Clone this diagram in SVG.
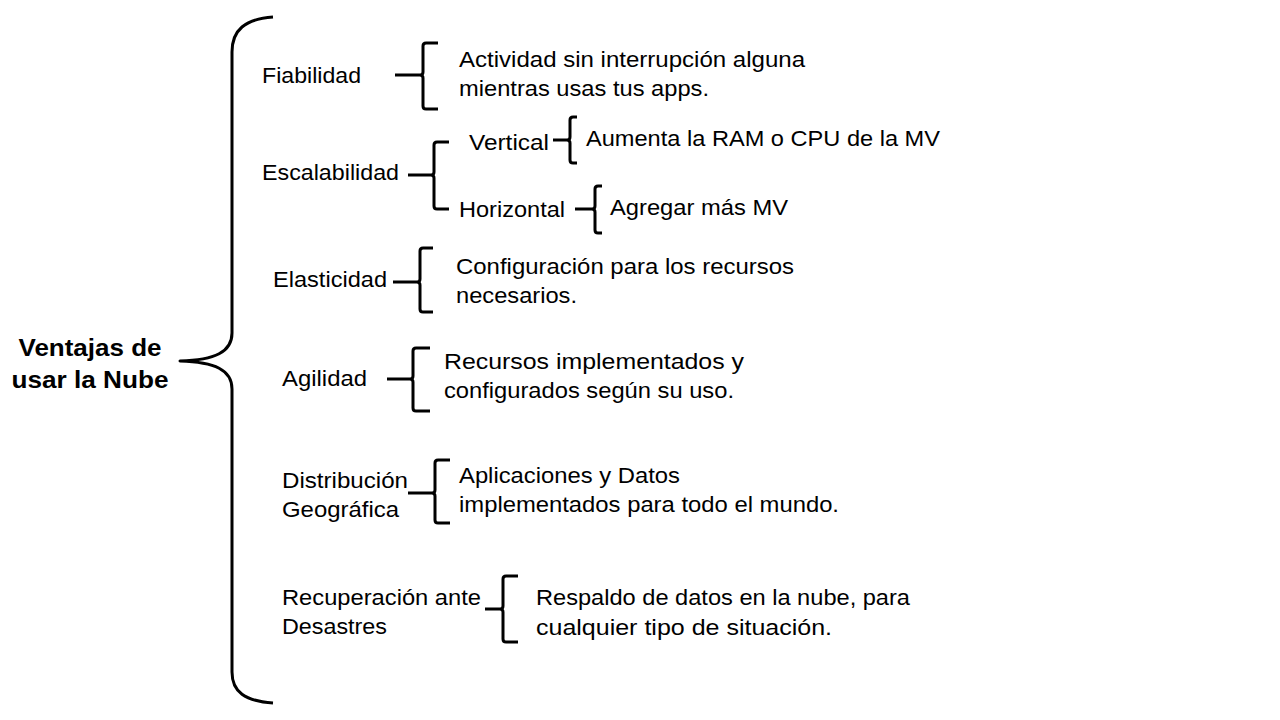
<svg xmlns="http://www.w3.org/2000/svg" width="1280" height="720" viewBox="0 0 1280 720">
<style>
text{font-family:"Liberation Sans",Arial,sans-serif;font-size:22px;fill:#000}
.title{font-weight:bold;font-size:24px;text-anchor:middle}
.br{fill:none;stroke:#000;stroke-width:3;stroke-linejoin:round}
</style>
<rect width="1280" height="720" fill="#fff"/>
<g id="connectors">
<path class="br" d="M273,17 C245,19 232,30 232,52 V333 C232,352 215,360 180,361 C215,362 232,370 232,389 V672 C232,692 245,701 273,703"/>
<path class="br" d="M438,43 H426 Q423,43 423,46 V72 Q423,75 420,75 H395 M420,75 Q423,75 423,78 V106 Q423,109 426,109 H438"/>
<path class="br" d="M449,142 H437 Q434,142 434,145 V172 Q434,175 431,175 H408 M431,175 Q434,175 434,178 V206 Q434,209 437,209 H449"/>
<path class="br" d="M577,117 H573 Q570,117 570,120 V137 Q570,140 567,140 H553 M567,140 Q570,140 570,143 V160 Q570,163 573,163 H577"/>
<path class="br" d="M602,186 H598 Q595,186 595,189 V206 Q595,209 592,209 H575 M592,209 Q595,209 595,212 V230 Q595,233 598,233 H602"/>
<path class="br" d="M433,248 H423 Q420,248 420,251 V279 Q420,282 417,282 H393 M417,282 Q420,282 420,285 V309 Q420,312 423,312 H433"/>
<path class="br" d="M430,348 H416 Q413,348 413,351 V376 Q413,379 410,379 H387 M410,379 Q413,379 413,382 V408 Q413,411 416,411 H430"/>
<path class="br" d="M450,460 H438 Q435,460 435,463 V490 Q435,493 432,493 H408 M432,493 Q435,493 435,496 V520 Q435,523 438,523 H450"/>
<path class="br" d="M518,576 H506 Q503,576 503,579 V606 Q503,609 500,609 H485 M500,609 Q503,609 503,612 V639 Q503,642 506,642 H518"/>
</g>
<g id="root"><text class="title" x="90" y="356" textLength="143" lengthAdjust="spacingAndGlyphs">Ventajas de</text><text class="title" x="90" y="388" textLength="157" lengthAdjust="spacingAndGlyphs">usar la Nube</text></g>
<g id="fiabilidad"><text x="262" y="83" textLength="99" lengthAdjust="spacingAndGlyphs">Fiabilidad</text></g>
<g id="fiabilidad-desc"><text x="459" y="67" textLength="346" lengthAdjust="spacingAndGlyphs">Actividad sin interrupción alguna</text><text x="459" y="96" textLength="250" lengthAdjust="spacingAndGlyphs">mientras usas tus apps.</text></g>
<g id="escalabilidad"><text x="262" y="180" textLength="137" lengthAdjust="spacingAndGlyphs">Escalabilidad</text></g>
<g id="vertical"><text x="469" y="150" textLength="80" lengthAdjust="spacingAndGlyphs">Vertical</text></g>
<g id="vertical-desc"><text x="586" y="146" textLength="354" lengthAdjust="spacingAndGlyphs">Aumenta la RAM o CPU de la MV</text></g>
<g id="horizontal"><text x="459" y="217" textLength="106" lengthAdjust="spacingAndGlyphs">Horizontal</text></g>
<g id="horizontal-desc"><text x="610" y="215" textLength="178" lengthAdjust="spacingAndGlyphs">Agregar más MV</text></g>
<g id="elasticidad"><text x="273" y="287" textLength="114" lengthAdjust="spacingAndGlyphs">Elasticidad</text></g>
<g id="elasticidad-desc"><text x="456" y="274" textLength="338" lengthAdjust="spacingAndGlyphs">Configuración para los recursos</text><text x="456" y="303" textLength="121" lengthAdjust="spacingAndGlyphs">necesarios.</text></g>
<g id="agilidad"><text x="282" y="386" textLength="85" lengthAdjust="spacingAndGlyphs">Agilidad</text></g>
<g id="agilidad-desc"><text x="444" y="369" textLength="300" lengthAdjust="spacingAndGlyphs">Recursos implementados y</text><text x="444" y="398" textLength="290" lengthAdjust="spacingAndGlyphs">configurados según su uso.</text></g>
<g id="distribucion"><text x="282" y="488" textLength="126" lengthAdjust="spacingAndGlyphs">Distribución</text><text x="282" y="517" textLength="117" lengthAdjust="spacingAndGlyphs">Geográfica</text></g>
<g id="distribucion-desc"><text x="459" y="483" textLength="221" lengthAdjust="spacingAndGlyphs">Aplicaciones y Datos</text><text x="459" y="512" textLength="380" lengthAdjust="spacingAndGlyphs">implementados para todo el mundo.</text></g>
<g id="recuperacion"><text x="282" y="605" textLength="199" lengthAdjust="spacingAndGlyphs">Recuperación ante</text><text x="282" y="634" textLength="105" lengthAdjust="spacingAndGlyphs">Desastres</text></g>
<g id="recuperacion-desc"><text x="536" y="605" textLength="374" lengthAdjust="spacingAndGlyphs">Respaldo de datos en la nube, para</text><text x="536" y="635" textLength="296" lengthAdjust="spacingAndGlyphs">cualquier tipo de situación.</text></g>
</svg>
